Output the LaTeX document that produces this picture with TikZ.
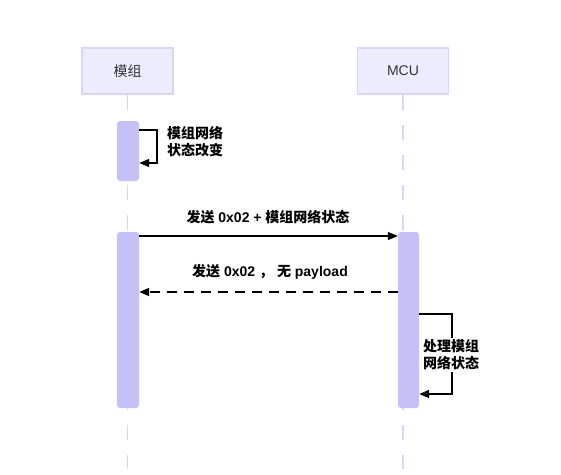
\documentclass[tikz,border=0pt]{standalone}
\usepackage{fontspec}
\setmainfont{Liberation Sans}
\newfontfamily\cjk{Noto Sans CJK SC}
\usetikzlibrary{arrows.meta}
\definecolor{actfill}{HTML}{ECECFF}
\definecolor{actline}{HTML}{DCD4F7}
\definecolor{barfill}{HTML}{C4C1F7}
\definecolor{txtgray}{HTML}{333333}
\tikzset{
  participant/.style={draw=actline, line width=1.5pt, fill=actfill, minimum width=91pt, minimum height=46pt, inner sep=0pt, text=txtgray, font=\fontsize{14}{17}\selectfont},
  lifeline/.style={draw=actline, line width=1.8pt, dash pattern=on 15pt off 15pt},
  actbar/.style={draw=none, fill=barfill, rounded corners=3pt, minimum width=22pt, inner sep=0pt},
  msg/.style={draw=black, line width=1.5pt, -{Triangle[length=10pt,width=8pt]}},
  dmsg/.style={msg, dash pattern=on 10pt off 7pt},
  msgtxt/.style={font=\fontsize{14}{17}\selectfont\bfseries, text=black, inner sep=0pt},
  looptxt/.style={font=\fontsize{14}{17}\selectfont\bfseries\cjk, text=black, inner sep=0pt, align=left}
}
\begin{document}
\begin{tikzpicture}[x=1pt,y=-1pt]
\useasboundingbox (0,0) rectangle (561,474);
% participants
\node[participant] (pa) at (127.5,71) {\cjk 模组};
\node[participant] (pb) at (403,71) {MCU};
\coordinate (lend) at (0,469);
% lifelines
\draw[lifeline] (pa.south) -- (pa.south |- lend);
\draw[lifeline] (pb.south) -- (pb.south |- lend);
% activation bars
\node[actbar, minimum height=60pt] (bar1) at (128,151) {};
\node[actbar, minimum height=176pt] (bar2) at (128,320) {};
\node[actbar, minimum width=21pt, minimum height=176pt] (bar3) at (408.5,320) {};
% self message on module
\coordinate (s1a) at (0,130);
\coordinate (s1x) at (157,0);
\coordinate (s1b) at (0,163);
\draw[msg] (bar1.east |- s1a) -- (s1x |- s1a) -- (s1x |- s1b) -- (bar1.east |- s1b);
\node[looptxt, anchor=west] (t1) at (167,142) {模组网络\\状态改变};
% message 1
\coordinate (m1) at (0,236);
\draw[msg] (bar2.east |- m1) -- (bar3.west |- m1);
\node[msgtxt] (t2) at (268,217) {{\cjk 发送} 0x02 + {\cjk 模组网络状态}};
% message 2
\coordinate (m2) at (0,292);
\draw[dmsg] (bar3.west |- m2) -- (bar2.east |- m2);
\node[msgtxt] (t3) at (270,272) {{\cjk 发送} 0x02 {\cjk ，} {\cjk 无} payload};
% self message on MCU
\coordinate (s2a) at (0,314);
\coordinate (s2x) at (452,0);
\coordinate (s2b) at (0,394);
\draw[msg] (bar3.east |- s2a) -- (s2x |- s2a) -- (s2x |- s2b) -- (bar3.east |- s2b);
\node[looptxt, align=center, fill=white, inner sep=2pt] (t4) at (451,355) {处理模组\\网络状态};
\end{tikzpicture}
\end{document}
